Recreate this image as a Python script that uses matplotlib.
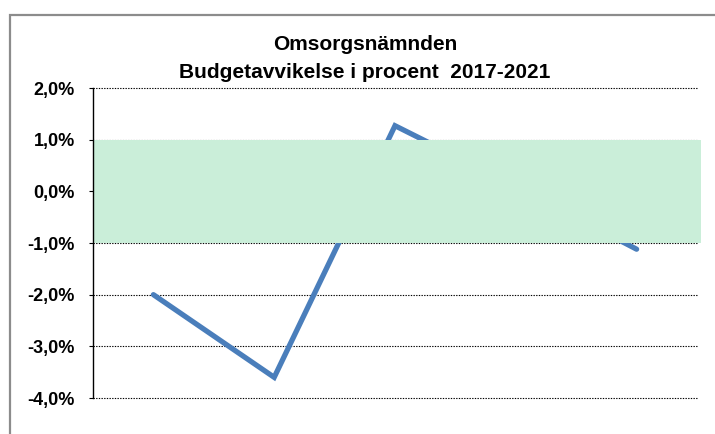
import matplotlib.pyplot as plt
from matplotlib.patches import Rectangle

years = ['2017', '2018', '2019', '2020', '2021']
avvikelse = [-2.0, -3.6, 1.27, 0.1, -1.12]
yticks = [2, 1, 0, -1, -2, -3, -4]
ytick_labels = ['2,0%', '1,0%', '0,0%', '-1,0%', '-2,0%', '-3,0%', '-4,0%']

plt.rcParams['font.family'] = ['Liberation Sans', 'DejaVu Sans']

fig = plt.figure(figsize=(7.15, 4.34), dpi=100)
ax = fig.add_axes([93 / 715, 1 - 398 / 434, 604 / 715, 310 / 434])

x = range(len(years))
ax.plot(x, avvikelse, color='#4a7ebb', lw=3.8, solid_capstyle='round',
        solid_joinstyle='miter', zorder=2)

# green tolerance band +-1 %, drawn on top of the line
ax.add_patch(Rectangle((-0.5, -1), 5.03, 2, facecolor='#caeed9',
                       edgecolor='none', zorder=3, clip_on=False))

ax.set_xlim(-0.5, 4.5)
ax.set_ylim(-4, 2)
ax.set_xticks([])
ax.set_yticks(yticks)
ax.set_yticklabels(ytick_labels, fontsize=13, fontweight='bold')
ax.tick_params(axis='y', length=3, width=0.8, pad=10)
for t in yticks:
    ax.axhline(t, color='black', lw=0.8, ls=(0, (1.2, 1.2)), zorder=1,
               clip_on=False)
for s in ['top', 'right', 'bottom']:
    ax.spines[s].set_visible(False)
ax.spines['left'].set_linewidth(1.0)
ax.spines['left'].set_zorder(4)

fig.text(365 / 715, 1 - 50 / 434, 'Omsorgsnämnden',
         ha='center', va='baseline', fontsize=15, fontweight='bold')
fig.text(365 / 715, 1 - 78 / 434,
         'Budgetavvikelse i procent  2017-2021',
         ha='center', va='baseline', fontsize=15, fontweight='bold')

# outer chart border
fig.add_artist(Rectangle((10 / 715, -0.1), 1.0, 1 - 15 / 434 + 0.1,
                         transform=fig.transFigure, facecolor='none',
                         edgecolor='#8c8c8c', lw=1.6))

fig.savefig('out.png', dpi=100)
